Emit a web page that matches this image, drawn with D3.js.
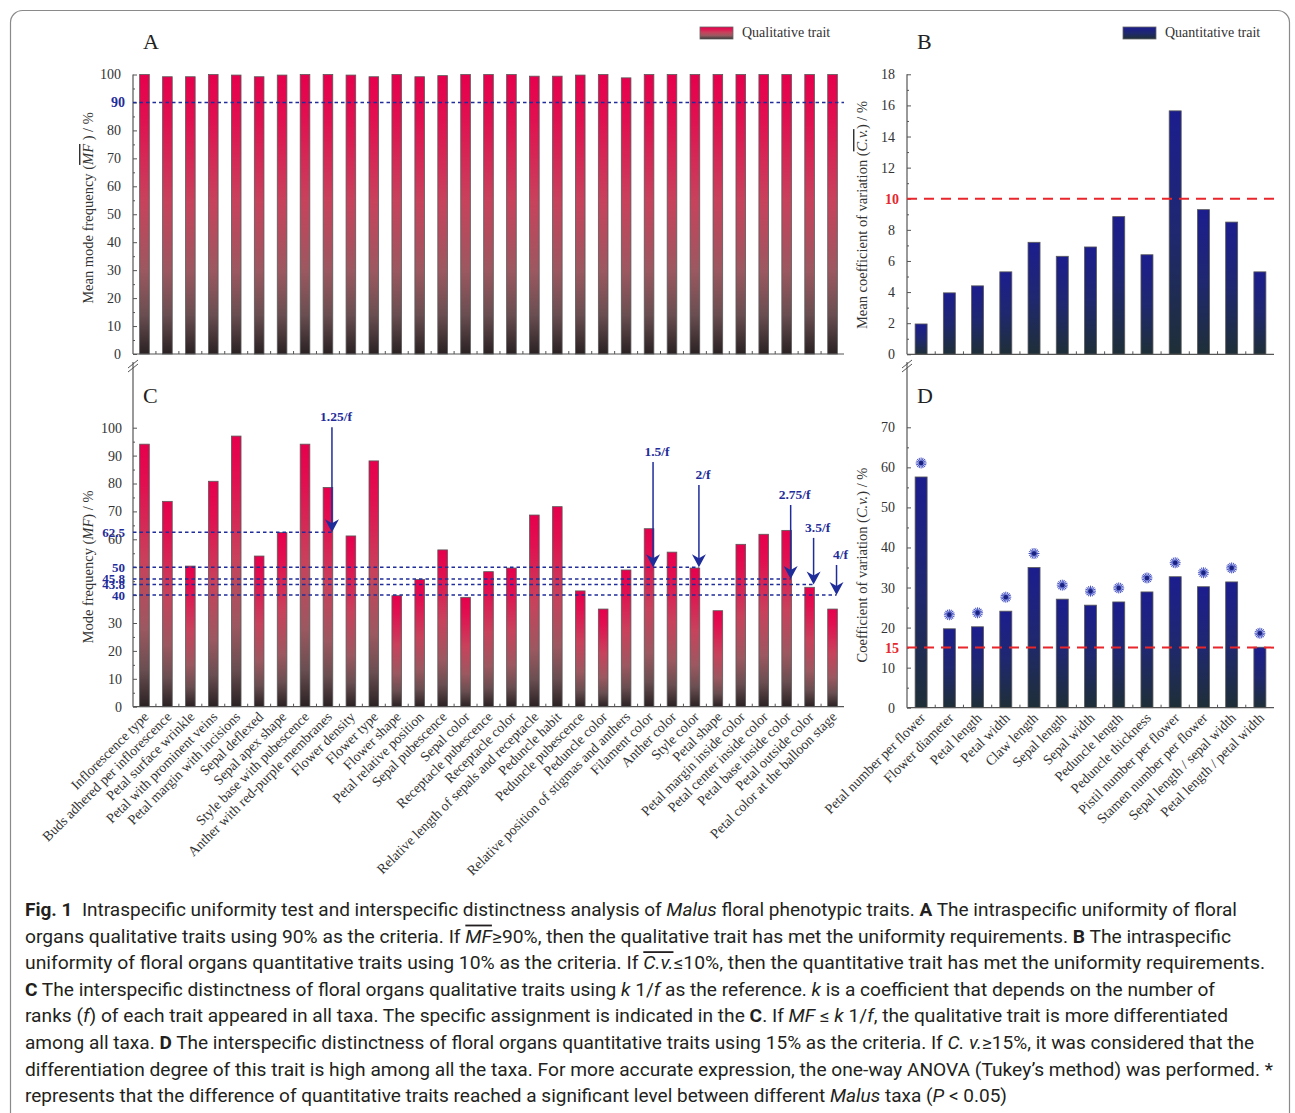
<!DOCTYPE html>
<html>
<head>
<meta charset="utf-8">
<script src="https://cdn.jsdelivr.net/npm/d3@7"></script>
<style>
  body { margin: 0; background: #fff; }
  svg text { font-family: "Liberation Serif", "Times New Roman", serif; }
</style>
</head>
<body>
<div id="chart"></div>
<script>
// Qualitative traits (panels A and C)
var qualTraits = ["Inflorescence type", "Buds adhered per inflorescence", "Petal surface wrinkle",
  "Petal with prominent veins", "Petal margin with incisions", "Sepal deflexed", "Sepal apex shape",
  "Style base with pubescence", "Anther with red-purple membranes", "Flower density", "Flower type",
  "Flower shape", "Petal relative position", "Sepal pubescence", "Sepal color", "Receptacle pubescence",
  "Receptacle color", "Relative length of sepals and receptacle", "Peduncle habit", "Peduncle pubescence",
  "Peduncle color", "Relative position of stigmas and anthers", "Filament color", "Anther color",
  "Style color", "Petal shape", "Petal margin inside color", "Petal center inside color",
  "Petal base inside color", "Petal outside color", "Petal color at the balloon stage"];
var qualMeanMF = [100, 99.2, 99.2, 100, 99.8, 99.2, 99.8, 100, 100, 99.8, 99.2, 100, 99.2, 99.6, 100,
  100, 100, 99.4, 99.4, 99.8, 100, 98.8, 100, 100, 100, 100, 100, 100, 100, 100, 100];
var qualMF = [94.1, 73.6, 50.4, 80.8, 97.0, 54.0, 62.4, 94.1, 78.6, 61.2, 88.1, 39.8, 45.6, 56.2, 39.2,
  48.4, 49.7, 68.7, 71.7, 41.5, 35.0, 49.0, 63.8, 55.4, 49.7, 34.4, 58.2, 61.8, 63.2, 42.8, 35.0];

// Quantitative traits (panels B and D)
var quantTraits = ["Petal number per flower", "Flower diameter", "Petal length", "Petal width",
  "Claw length", "Sepal length", "Sepal width", "Peduncle length", "Peduncle thickness",
  "Pistil number per flower", "Stamen number per flower", "Sepal length / sepal width",
  "Petal length / petal width"];
var quantMeanCV = [1.95, 3.95, 4.4, 5.3, 7.2, 6.3, 6.9, 8.85, 6.4, 15.65, 9.3, 8.5, 5.3];
var quantCV = [57.6, 19.7, 20.2, 24.1, 35.0, 27.1, 25.6, 26.4, 28.9, 32.7, 30.2, 31.4, 15.1];

// Axis ticks
var mfTicks = d3.range(0, 101, 10);
var mfMinor = d3.range(5, 100, 10);
var meanCvTicks = d3.range(0, 19, 2);
var meanCvMinor = d3.range(1, 18, 2);
var cvTicks = d3.range(0, 71, 10);
var cvMinor = d3.range(5, 70, 10);

// Criteria
var mfCriterion = 90;
var meanCvCriterion = 10;
var cvCriterion = 15;
var kLevels = [62.5, 50, 45.8, 43.8, 40];
var kArrows = [
  {label: "1.25/f", value: 62.5, trait: "Anther with red-purple membranes", top: 100.2},
  {label: "1.5/f", value: 50, trait: "Filament color", top: 87.7},
  {label: "2/f", value: 50, trait: "Style color", top: 79.5},
  {label: "2.75/f", value: 45.8, trait: "Petal base inside color", top: 72.3},
  {label: "3.5/f", value: 43.8, trait: "Petal outside color", top: 60.5},
  {label: "4/f", value: 40, trait: "Petal color at the balloon stage", top: 50.8}
];

var blue = "#1f2d9a", red = "#e8262b", axisColor = "#555", textColor = "#333";

var svg = d3.select("#chart").append("svg")
  .attr("width", 1295)
  .attr("height", 1113);

// Figure frame
svg.append("rect")
  .attr("x", 10.5).attr("y", 10.5)
  .attr("width", 1279).attr("height", 1130)
  .attr("rx", 12)
  .attr("fill", "none")
  .attr("stroke", "#8a8a8a")
  .attr("stroke-width", 1.2);

// Gradients
var defs = svg.append("defs");
var qg = defs.append("linearGradient").attr("id", "qualGrad")
  .attr("x1", 0).attr("y1", 0).attr("x2", 0).attr("y2", 1);
[[0, "#e6004d"], [0.15, "#e10f50"], [0.45, "#c8425c"], [0.7, "#9c5860"], [0.86, "#6a4e51"], [1, "#2a2123"]]
  .forEach(s => qg.append("stop").attr("offset", s[0]).attr("stop-color", s[1]));
var ng = defs.append("linearGradient").attr("id", "quantGrad")
  .attr("x1", 0).attr("y1", 0).attr("x2", 0).attr("y2", 1);
[[0, "#1c1d8e"], [0.5, "#1f2870"], [1, "#1f2f37"]]
  .forEach(s => ng.append("stop").attr("offset", s[0]).attr("stop-color", s[1]));

// Draws one bar panel and returns its scales
function barPanel(p) {
  var x = d3.scaleBand()
    .domain(p.cats)
    .range([p.x0, p.x1])
    .paddingInner(p.pad)
    .paddingOuter(p.pad / 2);
  var y = d3.scaleLinear()
    .domain([0, p.max])
    .range([p.yBottom, p.yTop]);

  var g = svg.append("g");

  // bars
  g.selectAll("rect.bar")
    .data(p.vals)
    .enter().append("rect")
      .attr("class", "bar")
      .attr("x", (d, i) => x(p.cats[i]))
      .attr("y", d => y(d))
      .attr("width", x.bandwidth())
      .attr("height", d => y(0) - y(d))
      .attr("fill", "url(#" + p.grad + ")")
      .attr("stroke", "#5a5a5a")
      .attr("stroke-width", 0.8);

  // minor y ticks
  g.append("g")
    .attr("transform", "translate(" + p.x0 + ",0)")
    .call(d3.axisLeft(y).tickValues(p.minor).tickSize(-2).tickFormat(""))
    .call(a => a.select(".domain").remove())
    .call(a => a.selectAll("line").attr("stroke", axisColor));

  // major y ticks
  g.append("g")
    .attr("transform", "translate(" + p.x0 + ",0)")
    .call(d3.axisLeft(y)
      .tickValues(p.ticks)
      .tickSizeInner(-4)
      .tickSizeOuter(0)
      .tickPadding(p.tickPad)
      .tickFormat(d => p.hide.indexOf(d) >= 0 ? "" : d))
    .attr("font-family", "Liberation Serif, serif")
    .attr("font-size", 14)
    .call(a => a.select(".domain").remove())
    .call(a => a.selectAll("line").attr("stroke", axisColor))
    .call(a => a.selectAll("text").attr("fill", textColor));

  // y axis line (possibly extended above the plot)
  g.append("line")
    .attr("x1", p.x0).attr("x2", p.x0)
    .attr("y1", y(0)).attr("y2", p.axisTop)
    .attr("stroke", axisColor).attr("stroke-width", 1.2);

  // x axis line and ticks between categories
  g.append("line")
    .attr("x1", p.x0).attr("x2", p.x1)
    .attr("y1", y(0)).attr("y2", y(0))
    .attr("stroke", axisColor).attr("stroke-width", 1.2);
  g.selectAll("line.xtick")
    .data(p.cats.slice(1))
    .enter().append("line")
      .attr("class", "xtick")
      .attr("x1", d => x(d) - x.step() * p.pad / 2)
      .attr("x2", d => x(d) - x.step() * p.pad / 2)
      .attr("y1", y(0)).attr("y2", y(0) - 3)
      .attr("stroke", axisColor);

  // category labels
  if (p.labels) {
    g.selectAll("text.xlab")
      .data(p.cats)
      .enter().append("text")
        .attr("class", "xlab")
        .attr("transform", d => "translate(" + (x(d) + x.bandwidth() / 2 + 5) + "," + (y(0) + 11) + ") rotate(-45)")
        .attr("text-anchor", "end")
        .attr("font-size", 14)
        .attr("fill", textColor)
        .text(d => d);
  }

  // panel letter
  svg.append("text")
    .attr("x", p.x0 + 10)
    .attr("y", p.letterY)
    .attr("font-size", 22)
    .attr("fill", "#222")
    .text(p.letter);

  // axis title
  var t = svg.append("text")
    .attr("transform", "translate(" + (p.x0 - 40) + "," + p.titleY + ") rotate(-90)")
    .attr("text-anchor", "middle")
    .attr("font-size", 14.5)
    .attr("fill", textColor);
  p.title.forEach(s => {
    var ts = t.append("tspan").text(s[0]);
    if (s[1]) ts.attr("font-style", "italic");
    if (s[1] === "o") ts.style("text-decoration", "overline");
  });

  return {x: x, y: y, g: g};
}

// Axis break marks
function breakMark(xp, yp) {
  [0, 4].forEach(o => {
    svg.append("line")
      .attr("x1", xp - 5).attr("y1", yp + o + 4)
      .attr("x2", xp + 5).attr("y2", yp + o - 4)
      .attr("stroke", axisColor).attr("stroke-width", 1);
  });
}

// Horizontal criterion line
function hLine(panel, v, x0, x1, color, dash, w) {
  panel.g.append("line")
    .attr("x1", x0).attr("x2", x1)
    .attr("y1", panel.y(v)).attr("y2", panel.y(v))
    .attr("stroke", color)
    .attr("stroke-width", w)
    .attr("stroke-dasharray", dash);
}

function sideLabel(panel, x0, v, color, size) {
  panel.g.append("text")
    .attr("x", x0 - 8)
    .attr("y", panel.y(v))
    .attr("dy", "0.35em")
    .attr("text-anchor", "end")
    .attr("font-size", size)
    .attr("font-weight", "bold")
    .attr("fill", color)
    .text(v);
}

// Panel A
var A = barPanel({cats: qualTraits, vals: qualMeanMF, x0: 133, x1: 844, yBottom: 354, yTop: 74.5,
  max: 100, ticks: mfTicks, minor: mfMinor, hide: [mfCriterion], grad: "qualGrad", pad: 0.58,
  tickPad: 12, axisTop: 74.5, labels: false, letter: "A", letterY: 49, titleY: 208,
  title: [["Mean mode frequency ("], ["MF", "o"], [" ) / %"]]});
hLine(A, mfCriterion, 133, 844, blue, "3.5,3", 1.5);
sideLabel(A, 133, mfCriterion, blue, 14);

// Panel B
var B = barPanel({cats: quantTraits, vals: quantMeanCV, x0: 907, x1: 1274, yBottom: 354.3, yTop: 74.3,
  max: 18, ticks: meanCvTicks, minor: meanCvMinor, hide: [meanCvCriterion], grad: "quantGrad", pad: 0.575,
  tickPad: 12, axisTop: 74.3, labels: false, letter: "B", letterY: 49, titleY: 215,
  title: [["Mean coefficient of variation ("], ["C.v.", "o"], [") / %"]]});
hLine(B, meanCvCriterion, 907, 1274, red, "10,7", 2);
sideLabel(B, 907, meanCvCriterion, red, 14);

// Panel C
var C = barPanel({cats: qualTraits, vals: qualMF, x0: 133, x1: 844, yBottom: 706.7, yTop: 427.7,
  max: 100, ticks: mfTicks, minor: mfMinor, hide: [40, 50], grad: "qualGrad", pad: 0.58,
  tickPad: 11, axisTop: 362, labels: true, letter: "C", letterY: 403, titleY: 567,
  title: [["Mode frequency ("], ["MF", "i"], [") / %"]]});
breakMark(133, 364);

kLevels.forEach(v => {
  var ends = kArrows.filter(a => a.value === v).map(a => C.x(a.trait) + C.x.bandwidth() / 2 + 4);
  hLine(C, v, 133, d3.max(ends), blue, "3.5,3", 1.5);
  sideLabel(C, 133, v, blue, 13);
});

var arrows = C.g.selectAll("g.arrow")
  .data(kArrows)
  .enter().append("g")
    .attr("class", "arrow")
    .attr("transform", d => "translate(" + (C.x(d.trait) + C.x.bandwidth() / 2 + 4) + ",0)");
arrows.append("line")
  .attr("x1", 0).attr("x2", 0)
  .attr("y1", d => C.y(d.top))
  .attr("y2", d => C.y(d.value) - 4)
  .attr("stroke", blue)
  .attr("stroke-width", 1.5);
arrows.append("path")
  .attr("d", d => "M0," + C.y(d.value) + "l-7,-13l7,4l7,-4z")
  .attr("fill", blue);
arrows.append("text")
  .attr("x", 4)
  .attr("y", d => C.y(d.top) - 6)
  .attr("text-anchor", "middle")
  .attr("font-size", 13.5)
  .attr("font-weight", "bold")
  .attr("fill", blue)
  .text(d => d.label);

// Panel D
var D = barPanel({cats: quantTraits, vals: quantCV, x0: 907, x1: 1274, yBottom: 707.7, yTop: 427.3,
  max: 70, ticks: cvTicks, minor: cvMinor, hide: [], grad: "quantGrad", pad: 0.575,
  tickPad: 12, axisTop: 362, labels: true, letter: "D", letterY: 403, titleY: 565,
  title: [["Coefficient of variation ("], ["C.v.", "i"], [") / %"]]});
breakMark(907, 364);
hLine(D, cvCriterion, 907, 1274, red, "10,7", 2);
sideLabel(D, 907, cvCriterion, red, 14);

// significance stars
var stars = D.g.selectAll("g.star")
  .data(quantCV)
  .enter().append("g")
    .attr("class", "star")
    .attr("transform", (d, i) => "translate(" + (D.x(quantTraits[i]) + D.x.bandwidth() / 2) + "," + (D.y(d) - 14) + ")");
stars.selectAll("line")
  .data(d3.range(0, 180, 22.5))
  .enter().append("line")
    .attr("x1", -5.5).attr("x2", 5.5)
    .attr("y1", 0).attr("y2", 0)
    .attr("transform", a => "rotate(" + a + ")")
    .attr("stroke", "#4754c4")
    .attr("stroke-width", 1);
stars.append("circle").attr("r", 2.2).attr("fill", "#1a2380");

// Legends
function legend(x0, grad, label) {
  svg.append("rect")
    .attr("x", x0).attr("y", 27)
    .attr("width", 33).attr("height", 12)
    .attr("fill", "url(#" + grad + ")")
    .attr("stroke", "#666").attr("stroke-width", 0.8);
  svg.append("text")
    .attr("x", x0 + 42).attr("y", 37)
    .attr("font-size", 14)
    .attr("fill", textColor)
    .text(label);
}
legend(700, "qualGrad", "Qualitative trait");
legend(1123, "quantGrad", "Quantitative trait");

// Caption
var captionLines = [
  [["Fig. 1", "b"], ["  Intraspecific uniformity test and interspecific distinctness analysis of "], ["Malus", "i"], [" floral phenotypic traits. "], ["A", "b"], [" The intraspecific uniformity of floral"]],
  [["organs qualitative traits using 90% as the criteria. If "], ["MF", "o"], ["\u2265" + "90%, then the qualitative trait has met the uniformity requirements. "], ["B", "b"], [" The intraspecific"]],
  [["uniformity of floral organs quantitative traits using 10% as the criteria. If "], ["C.v.", "o"], ["\u2264" + "10%, then the quantitative trait has met the uniformity requirements."]],
  [["C", "b"], [" The interspecific distinctness of floral organs qualitative traits using "], ["k", "i"], [" 1/"], ["f", "i"], [" as the reference. "], ["k", "i"], [" is a coefficient that depends on the number of"]],
  [["ranks ("], ["f", "i"], [") of each trait appeared in all taxa. The specific assignment is indicated in the "], ["C", "b"], [". If "], ["MF", "i"], [" \u2264 "], ["k", "i"], [" 1/"], ["f", "i"], [", the qualitative trait is more differentiated"]],
  [["among all taxa. "], ["D", "b"], [" The interspecific distinctness of floral organs quantitative traits using 15% as the criteria. If "], ["C. v.", "i"], ["\u2265" + "15%, it was considered that the"]],
  [["differentiation degree of this trait is high among all the taxa. For more accurate expression, the one-way ANOVA (Tukey\u2019s method) was performed. *"]],
  [["represents that the difference of quantitative traits reached a significant level between different "], ["Malus", "i"], [" taxa ("], ["P", "i"], [" < 0.05)"]]
];
var captionWidths = [1212, 1206, 1240, 1190, 1203, 1229, 1248, 982];

captionLines.forEach((line, i) => {
  var t = svg.append("text")
    .attr("x", 25)
    .attr("y", 916 + i * 26.6)
    .attr("font-size", 18)
    .attr("fill", "#231f20")
    .attr("textLength", captionWidths[i])
    .attr("lengthAdjust", "spacingAndGlyphs")
    .style("font-family", "Roboto, 'Open Sans', sans-serif")
    .attr("xml:space", "preserve");
  line.forEach(s => {
    var ts = t.append("tspan").text(s[0]);
    if (s[1] === "b") ts.attr("font-weight", "bold");
    if (s[1] === "i" || s[1] === "o") ts.attr("font-style", "italic");
    if (s[1] === "o") ts.style("text-decoration", "overline");
  });
});
</script>
</body>
</html>
